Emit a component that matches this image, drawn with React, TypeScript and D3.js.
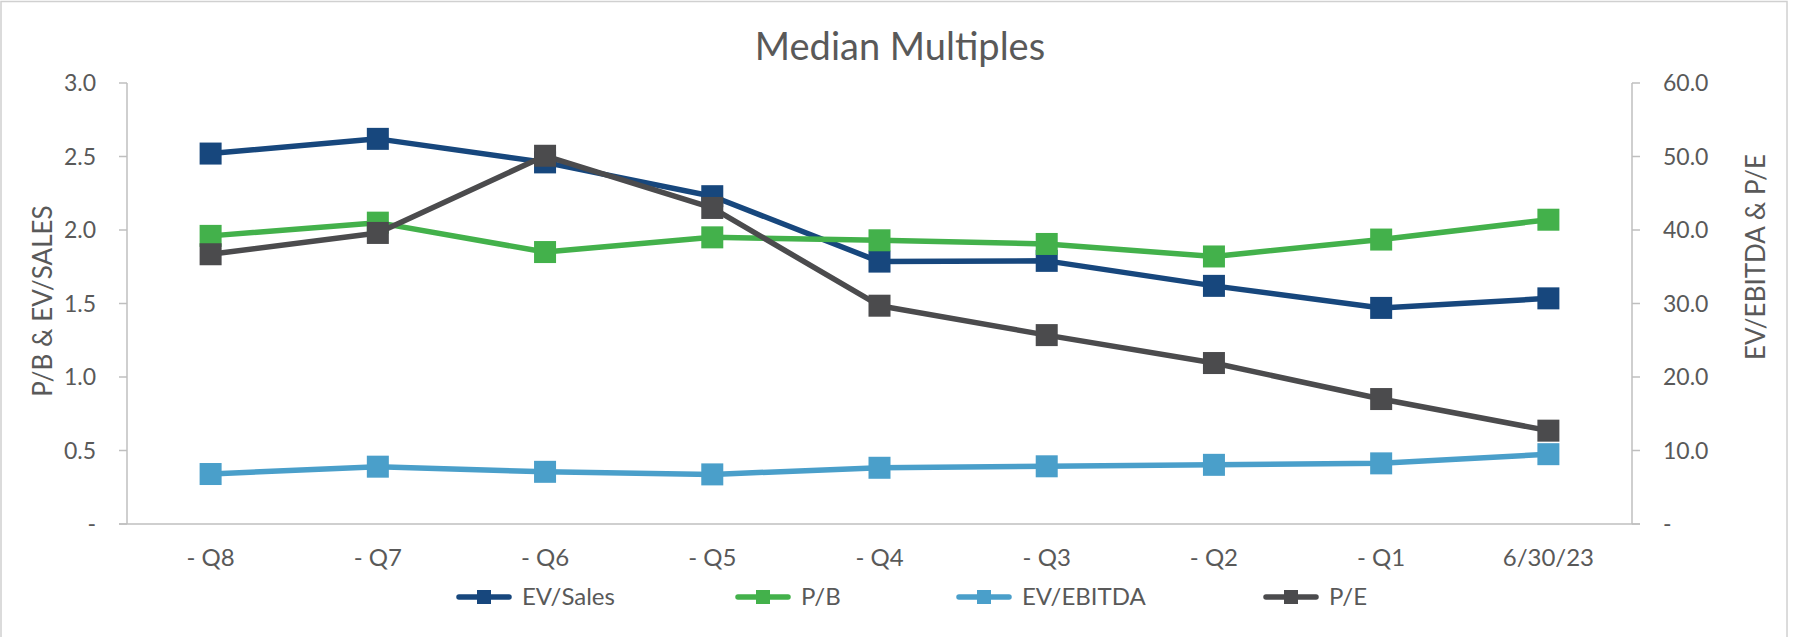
import React from "react";
import * as d3 from "d3";

const categories = ["- Q8", "- Q7", "- Q6", "- Q5", "- Q4", "- Q3", "- Q2", "- Q1", "6/30/23"];
const evSales = [2.52, 2.62, 2.46, 2.23, 1.785, 1.79, 1.62, 1.47, 1.535];
const pb = [1.96, 2.05, 1.85, 1.95, 1.93, 1.905, 1.82, 1.935, 2.07];
const evEbitda = [6.8, 7.8, 7.1, 6.75, 7.65, 7.85, 8.05, 8.25, 9.5];
const pe = [36.7, 39.6, 50.1, 43.0, 29.7, 25.7, 21.9, 17.0, 12.7];
const leftTicks = [0, 0.5, 1.0, 1.5, 2.0, 2.5, 3.0];
const rightTicks = [0, 10, 20, 30, 40, 50, 60];

const W = 1797;
const H = 637;
const FONT = "Lato, 'Open Sans', sans-serif";
const TEXT = "#595959";
const AXIS = "#bfbfbf";

const plot = { left: 127, right: 1632, top: 83, bottom: 524 };

export default function App() {
  const x = d3.scaleBand<string>().domain(categories).range([plot.left, plot.right]);
  const yL = d3.scaleLinear().domain([0, 3]).range([plot.bottom, plot.top]);
  const yR = d3.scaleLinear().domain([0, 60]).range([plot.bottom, plot.top]);
  const cx = (c: string) => (x(c) as number) + x.bandwidth() / 2;

  const series = [
    { name: "EV/Sales", values: evSales, color: "#17477d", y: yL },
    { name: "P/B", values: pb, color: "#43b14b", y: yL },
    { name: "EV/EBITDA", values: evEbitda, color: "#4a9fca", y: yR },
    { name: "P/E", values: pe, color: "#4b4b4d", y: yR },
  ];
  const legendX = [456, 735, 956, 1263];
  const MS = 22;

  return (
    <svg width={W} height={H} style={{ position: "absolute", left: 0, top: 0, background: "#fff" }} fontFamily={FONT}>
      <rect x={1} y={1.5} width={1786} height={640} fill="#fff" stroke="#d0d0d0" strokeWidth={1.5} />
      <text x={900} y={60} textAnchor="middle" fontSize={38} fill={TEXT}>Median Multiples</text>

      {/* left axis */}
      <line x1={plot.left} x2={plot.left} y1={plot.top} y2={plot.bottom} stroke={AXIS} strokeWidth={1.5} />
      {leftTicks.map((t) => (
        <g key={"l" + t}>
          <line x1={119} x2={plot.left} y1={yL(t)} y2={yL(t)} stroke={AXIS} strokeWidth={1.5} />
          <text x={96} y={yL(t)} dy="0.35em" textAnchor="end" fontSize={23} fill={TEXT}>
            {t === 0 ? "-" : d3.format(".1f")(t)}
          </text>
        </g>
      ))}
      <text transform={`translate(52,301) rotate(-90)`} textAnchor="middle" fontSize={26} fill={TEXT}>P/B &amp; EV/SALES</text>

      {/* right axis */}
      <line x1={plot.right} x2={plot.right} y1={plot.top} y2={plot.bottom} stroke={AXIS} strokeWidth={1.5} />
      {rightTicks.map((t) => (
        <g key={"r" + t}>
          <line x1={plot.right} x2={1640} y1={yR(t)} y2={yR(t)} stroke={AXIS} strokeWidth={1.5} />
          <text x={1663} y={yR(t)} dy="0.35em" textAnchor="start" fontSize={23} fill={TEXT}>
            {t === 0 ? "-" : d3.format(".1f")(t)}
          </text>
        </g>
      ))}
      <text transform={`translate(1765,257) rotate(-90)`} textAnchor="middle" fontSize={26} fill={TEXT}>EV/EBITDA &amp; P/E</text>

      {/* x axis */}
      <line x1={119} x2={1640} y1={plot.bottom} y2={plot.bottom} stroke={AXIS} strokeWidth={1.5} />
      {categories.map((c) => (
        <text key={c} x={cx(c)} y={566} textAnchor="middle" fontSize={24} fill={TEXT}>{c}</text>
      ))}

      {/* series */}
      {series.map((s) => {
        const line = d3
          .line<number>()
          .x((_, i) => cx(categories[i]))
          .y((v) => s.y(v));
        return (
          <g key={s.name}>
            <path d={line(s.values) || ""} fill="none" stroke={s.color} strokeWidth={5.5} strokeLinejoin="round" />
            {s.values.map((v, i) => (
              <rect key={i} x={cx(categories[i]) - MS / 2} y={s.y(v) - MS / 2} width={MS} height={MS} fill={s.color} />
            ))}
          </g>
        );
      })}

      {/* legend */}
      {series.map((s, i) => (
        <g key={"lg" + s.name}>
          <line x1={legendX[i] + 3} x2={legendX[i] + 53} y1={597} y2={597} stroke={s.color} strokeWidth={5.5} strokeLinecap="round" />
          <rect x={legendX[i] + 28 - 7} y={590} width={14} height={14} fill={s.color} />
          <text x={legendX[i] + 66} y={605} fontSize={24} fill={TEXT}>{s.name}</text>
        </g>
      ))}
    </svg>
  );
}
